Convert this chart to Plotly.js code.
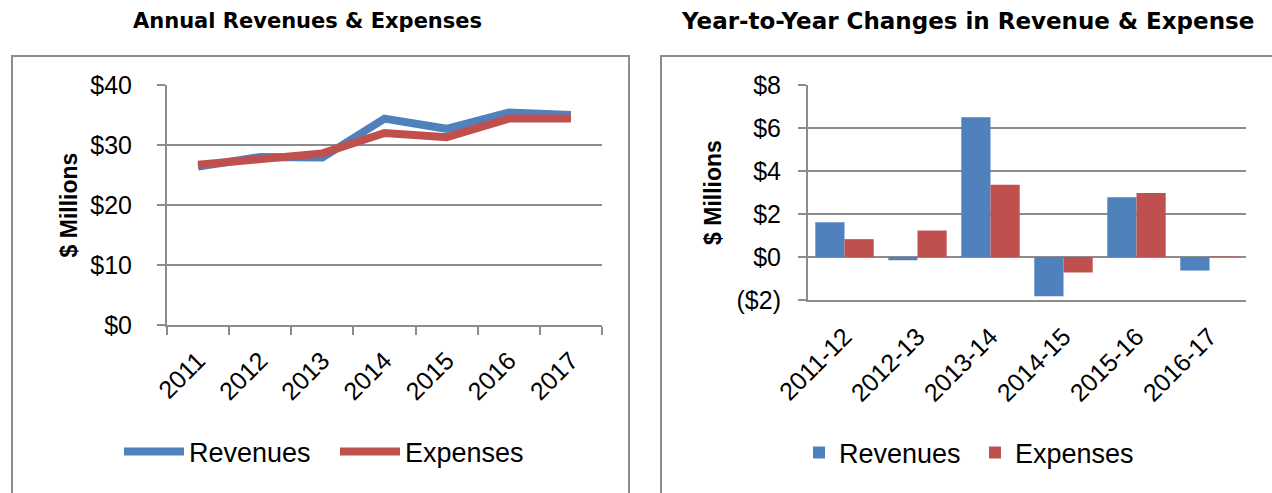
<!DOCTYPE html>
<html>
<head>
<meta charset="utf-8">
<script src="https://cdn.plot.ly/plotly-3.0.1.min.js"></script>
<style>html,body{margin:0;padding:0;background:#fff;}#chart{width:1272px;height:493px;}</style>
</head>
<body>
<div id="chart"></div>
<script>
// ---- data ----
const years = ["2011", "2012", "2013", "2014", "2015", "2016", "2017"];
const annualRevenues = [26.4, 28.0, 27.9, 34.4, 32.7, 35.4, 35.0];
const annualExpenses = [26.7, 27.5, 28.6, 32.0, 31.3, 34.4, 34.4];

const periods = ["2011-12", "2012-13", "2013-14", "2014-15", "2015-16", "2016-17"];
const changeRevenues = [1.62, -0.15, 6.5, -1.82, 2.78, -0.63];
const changeExpenses = [0.83, 1.23, 3.36, -0.72, 2.98, 0.02];

const leftTickVals = [0, 10, 20, 30, 40];
const leftTickText = ["$0", "$10", "$20", "$30", "$40"];
const rightTickVals = [-2, 0, 2, 4, 6, 8];
const rightTickText = ["($2)", "$0", "$2", "$4", "$6", "$8"];

const seriesNames = ["Revenues", "Expenses"];
const leftTitle = "Annual Revenues & Expenses";
const rightTitle = "Year-to-Year Changes in Revenue & Expense";
const yTitle = "$ Millions";

// ---- layout helpers ----
const W = 1272, H = 493;
const fx = p => p / W;
const fy = p => 1 - p / H;
const BLUE = "#4F81BD", RED = "#C0504D", GRID = "#8C8C8C";
const FONT = "Liberation Sans, Arial, sans-serif";
const TFONT = "DejaVu Sans, sans-serif";

const L = {x0: 167, x1: 602, y0: 85, y1: 325};
const R = {x0: 808, x1: 1246, y0: 85, y1: 300};
const rRange = [-2, 8];
const zeroPos = fy(R.y1) + (0 - rRange[0]) / (rRange[1] - rRange[0]) * (fy(R.y0) - fy(R.y1));

const traces = [
  {type: "scatter", mode: "lines", name: seriesNames[0], x: years, y: annualRevenues,
   xaxis: "x", yaxis: "y", line: {color: BLUE, width: 8}, legend: "legend"},
  {type: "scatter", mode: "lines", name: seriesNames[1], x: years, y: annualExpenses,
   xaxis: "x", yaxis: "y", line: {color: RED, width: 8}, legend: "legend"},
  {type: "bar", name: seriesNames[0], x: periods, y: changeRevenues,
   xaxis: "x2", yaxis: "y2", marker: {color: BLUE}, legend: "legend2"},
  {type: "bar", name: seriesNames[1], x: periods, y: changeExpenses,
   xaxis: "x2", yaxis: "y2", marker: {color: RED}, legend: "legend2"}
];

const tickFont = {family: FONT, size: 25, color: "#000"};
const titleFontY = {family: FONT, size: 23, color: "#000", weight: "bold"};

const layout = {
  width: W, height: H,
  margin: {l: 0, r: 0, t: 0, b: 0, pad: 0},
  paper_bgcolor: "#fff", plot_bgcolor: "rgba(0,0,0,0)",
  showlegend: true,
  barmode: "group", bargap: 0.2, bargroupgap: 0,
  xaxis: {
    domain: [fx(L.x0), fx(L.x1)], anchor: "y", type: "category",
    categoryarray: years, range: [-0.5, years.length - 0.5],
    showline: true, linecolor: GRID, linewidth: 2,
    ticks: "outside", tickson: "boundaries", ticklen: 8, tickwidth: 2, tickcolor: GRID,
    tickangle: -45, tickfont: tickFont, ticklabelstandoff: 9,
    showgrid: false, zeroline: false, automargin: false, fixedrange: true
  },
  yaxis: {
    domain: [fy(L.y1), fy(L.y0)], anchor: "x", range: [0, 40],
    tickvals: leftTickVals, ticktext: leftTickText,
    showline: true, linecolor: GRID, linewidth: 2,
    ticks: "outside", ticklen: 8, tickwidth: 2, tickcolor: GRID,
    tickfont: tickFont, ticklabelstandoff: 20,
    showgrid: true, gridcolor: GRID, gridwidth: 2, zeroline: false,
    title: {text: yTitle, font: titleFontY, standoff: 6},
    automargin: false, fixedrange: true
  },
  xaxis2: {
    domain: [fx(R.x0), fx(R.x1)], anchor: "y2", type: "category",
    categoryarray: periods, range: [-0.5, periods.length - 0.5],
    showline: true, linecolor: GRID, linewidth: 2,
    ticks: "", tickangle: -45, tickfont: tickFont, ticklabelstandoff: 10,
    showgrid: false, zeroline: false, automargin: false, fixedrange: true
  },
  xaxis3: {
    domain: [fx(R.x0), fx(R.x1)], anchor: "free", overlaying: "x2", position: zeroPos,
    type: "category", categoryarray: periods, range: [-0.5, periods.length - 0.5],
    showline: true, linecolor: GRID, linewidth: 2,
    ticks: "outside", tickson: "boundaries", ticklen: 8, tickwidth: 2, tickcolor: GRID,
    showticklabels: false, showgrid: false, zeroline: false, automargin: false, fixedrange: true
  },
  yaxis2: {
    domain: [fy(R.y1), fy(R.y0)], anchor: "x2", range: rRange,
    tickvals: rightTickVals, ticktext: rightTickText,
    showline: true, linecolor: GRID, linewidth: 2,
    ticks: "outside", ticklen: 8, tickwidth: 2, tickcolor: GRID,
    tickfont: tickFont, ticklabelstandoff: 12,
    showgrid: true, gridcolor: GRID, gridwidth: 2, zeroline: false,
    title: {text: yTitle, font: titleFontY, standoff: 8},
    automargin: false, fixedrange: true
  },
  legend: {
    orientation: "h", x: fx(119), y: fy(452), xanchor: "left", yanchor: "middle",
    font: {family: FONT, size: 27, color: "#000"}, bgcolor: "rgba(0,0,0,0)",
    itemwidth: 60, entrywidth: 141, entrywidthmode: "pixels", tracegroupgap: 0
  },
  legend2: {
    orientation: "h", x: fx(799), y: fy(453), xanchor: "left", yanchor: "middle",
    font: {family: FONT, size: 27, color: "#000"}, bgcolor: "rgba(0,0,0,0)",
    entrywidth: 131, entrywidthmode: "pixels", tracegroupgap: 0
  },
  annotations: [
    {text: leftTitle, xref: "paper", yref: "paper", x: fx(307), y: fy(21),
     xanchor: "center", yanchor: "middle", showarrow: false,
     font: {family: TFONT, size: 21, color: "#000", weight: "bold"}},
    {text: rightTitle, xref: "paper", yref: "paper", x: fx(967), y: fy(21),
     xanchor: "center", yanchor: "middle", showarrow: false,
     font: {family: TFONT, size: 23, color: "#000", weight: "bold"}}
  ],
  shapes: [
    {type: "rect", xref: "paper", yref: "paper", x0: fx(12), x1: fx(629), y0: fy(520), y1: fy(56),
     line: {color: GRID, width: 2}, fillcolor: "rgba(0,0,0,0)", layer: "below"},
    {type: "rect", xref: "paper", yref: "paper", x0: fx(661), x1: fx(1300), y0: fy(520), y1: fy(56),
     line: {color: GRID, width: 2}, fillcolor: "rgba(0,0,0,0)", layer: "below"}
  ]
};

Plotly.newPlot("chart", traces, layout, {displayModeBar: false, staticPlot: true});
</script>
</body>
</html>
